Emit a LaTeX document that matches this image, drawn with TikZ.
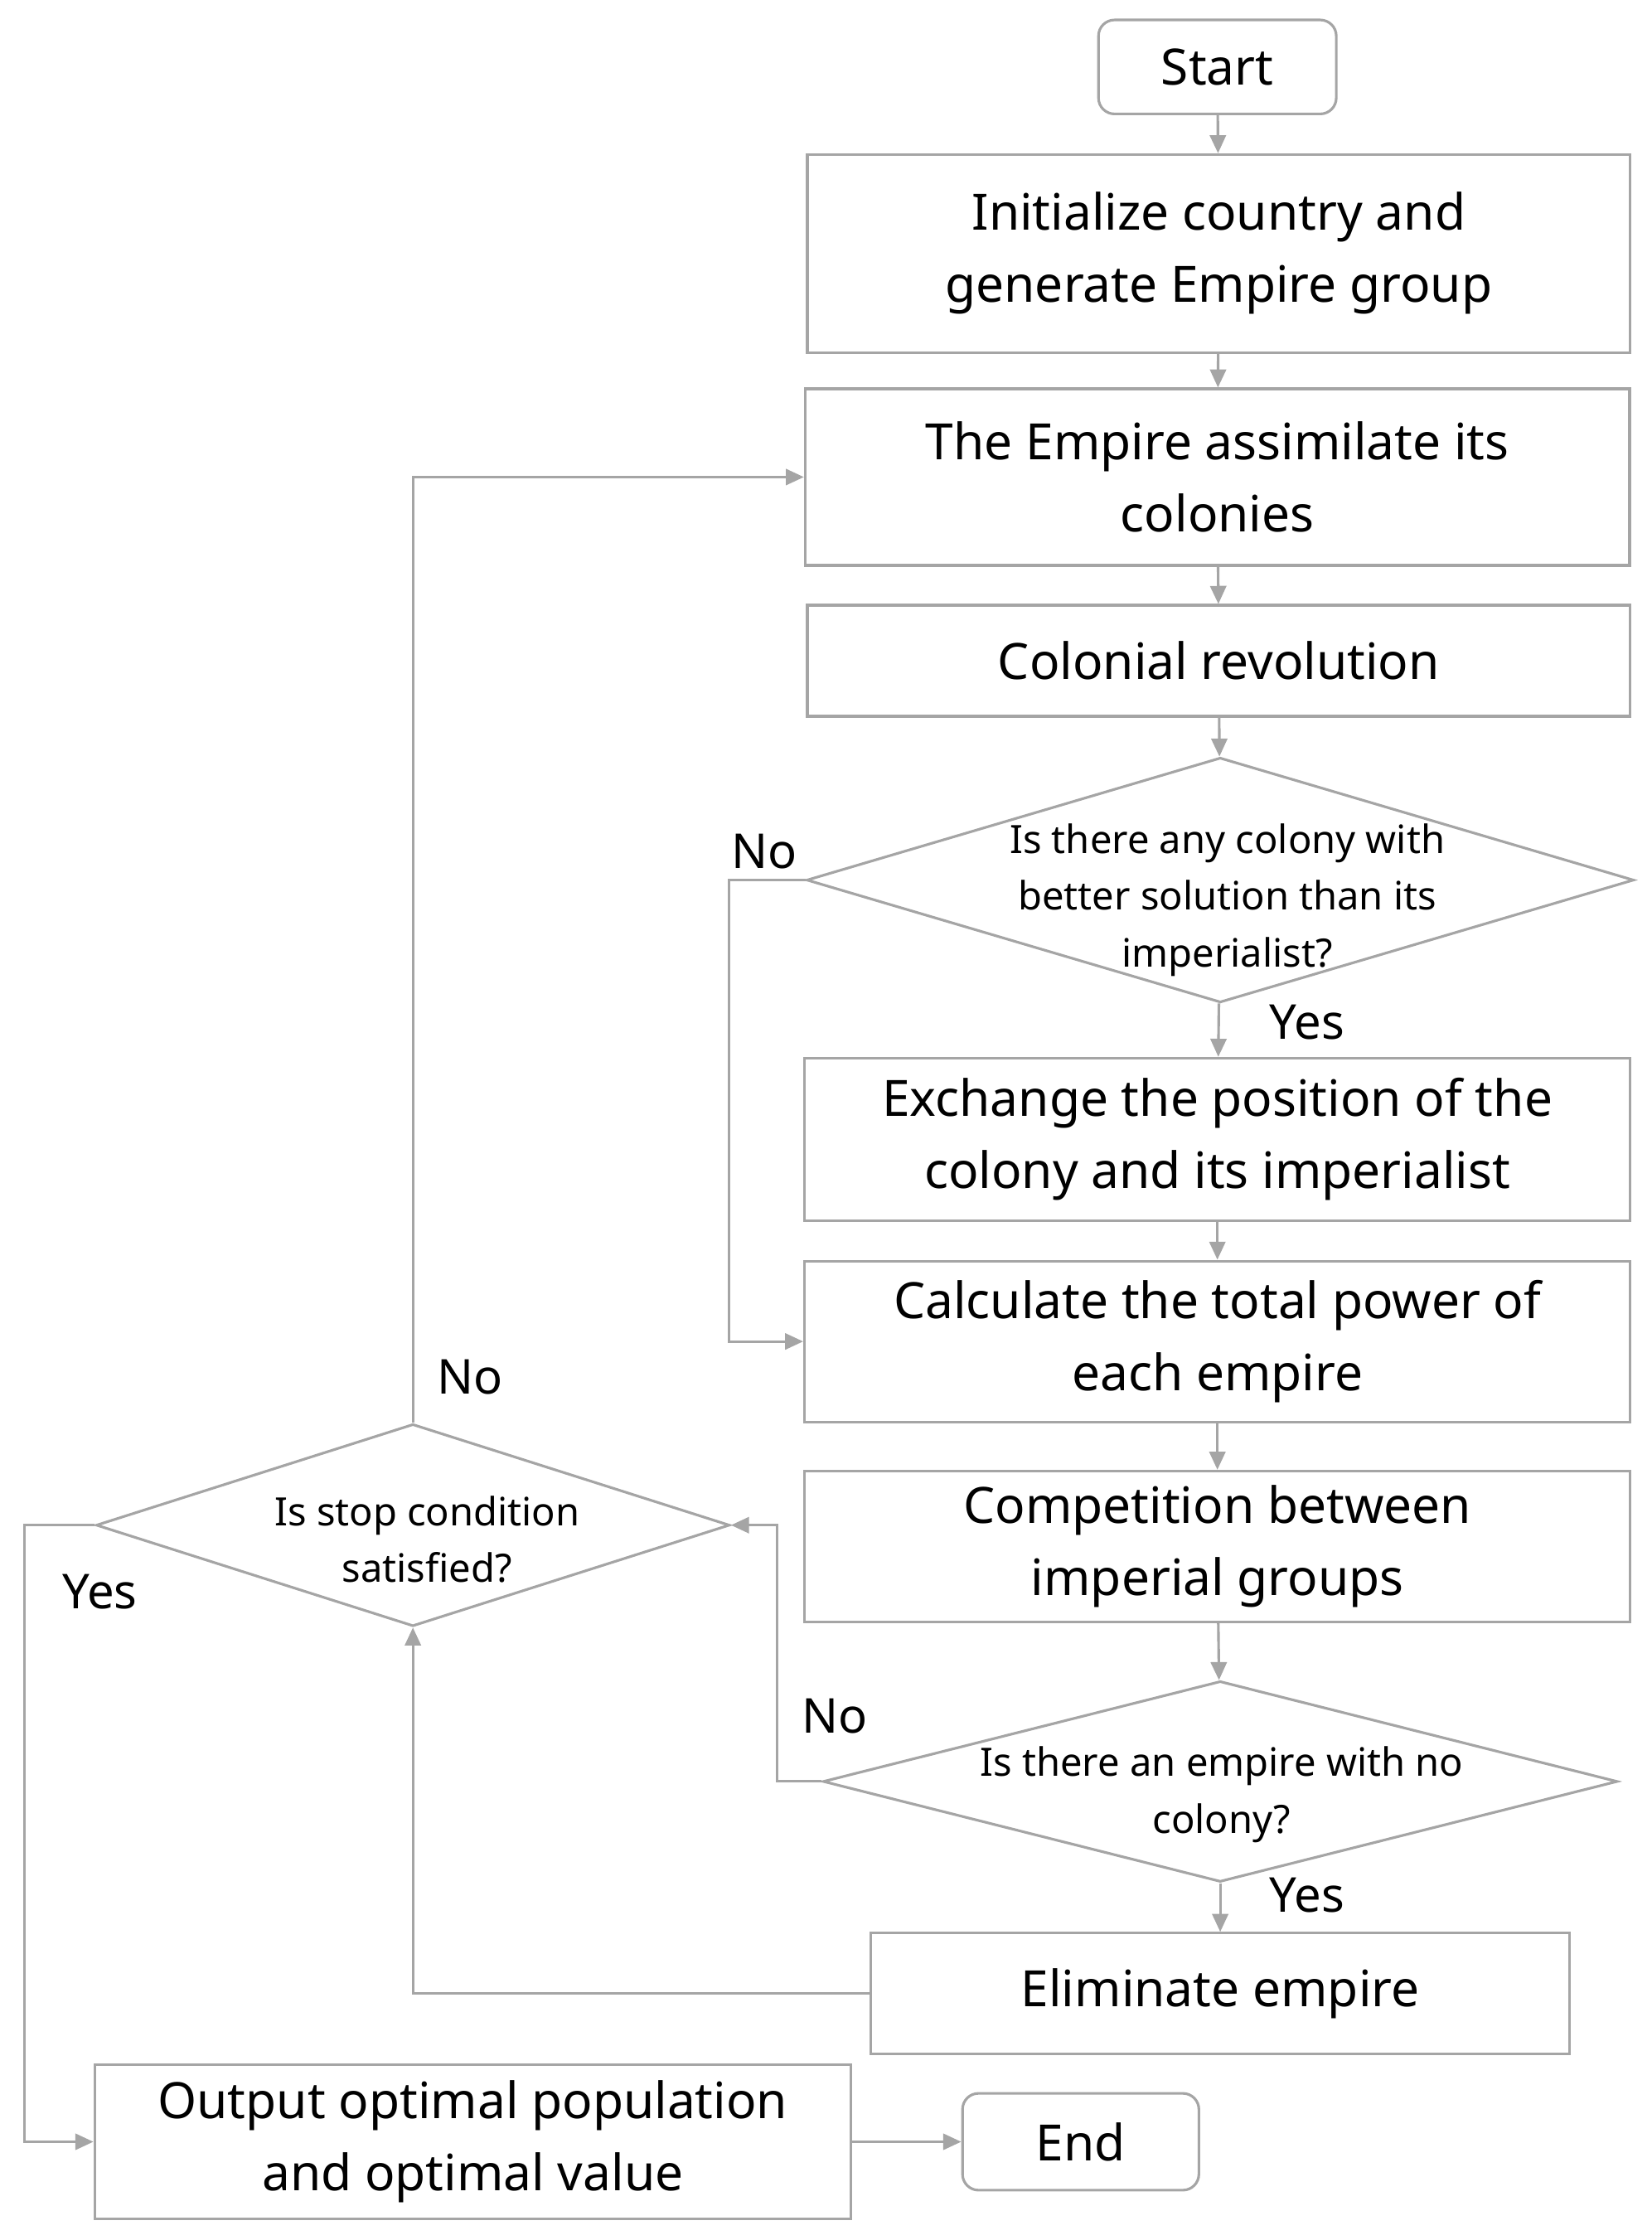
\documentclass[tikz,border=0pt]{standalone}
\usepackage{fontspec}
\setmainfont{Noto Sans}
\usetikzlibrary{shapes.geometric,arrows.meta}
\definecolor{ln}{RGB}{165,165,165}
\begin{document}
\begin{tikzpicture}[x=0.025cm,y=-0.025cm,
  box/.style={draw=ln,line width=1.3pt,rectangle,inner sep=0pt,align=center,font=\fontsize{25}{36}\selectfont},
  rbox/.style={box,rounded corners=8pt},
  dia/.style={draw=ln,line width=1.3pt,diamond,inner sep=0pt},
  dtext/.style={align=center,font=\fontsize{19.5}{28.5}\selectfont},
  lab/.style={font=\fontsize{24}{28}\selectfont},
  arr/.style={draw=ln,line width=1.3pt,-{Triangle[length=9pt,width=8pt]}}]
\useasboundingbox (0,0) rectangle (1160,1573);
\node[rbox,minimum width=167*0.025cm,minimum height=66*0.025cm] (start) at (855,47) {Start};
\node[box,minimum width=578*0.025cm,minimum height=139*0.025cm] (init) at (856,178) {Initialize country and\\generate Empire group};
\node[box,minimum width=579*0.025cm,minimum height=124*0.025cm] (assim) at (855,335) {The Empire assimilate its\\colonies};
\node[box,minimum width=578*0.025cm,minimum height=78*0.025cm] (colon) at (856,464) {Colonial revolution};
\node[dia,minimum width=581*0.025cm,minimum height=172*0.025cm] (d1) at (857,618) {};
\node[dtext] at (862,632) {Is there any colony with\\better solution than its\\imperialist?};
\node[box,minimum width=580*0.025cm,minimum height=114*0.025cm] (exch) at (855,800) {Exchange the position of the\\colony and its imperialist};
\node[box,minimum width=580*0.025cm,minimum height=113*0.025cm] (calc) at (855,942) {Calculate the total power of\\each empire};
\node[box,minimum width=580*0.025cm,minimum height=106*0.025cm] (comp) at (855,1086) {Competition between\\imperial groups};
\node[dia,minimum width=558*0.025cm,minimum height=141*0.025cm] (d2) at (857,1251) {};
\node[dtext] at (858,1260) {Is there an empire with no\\colony?};
\node[box,minimum width=491*0.025cm,minimum height=85*0.025cm] (elim) at (857,1400) {Eliminate empire};
\node[dia,minimum width=445*0.025cm,minimum height=142*0.025cm] (stop) at (290,1071) {};
\node[dtext] at (300,1081) {Is stop condition\\satisfied?};
\node[box,minimum width=531*0.025cm,minimum height=108*0.025cm] (out) at (332,1504) {Output optimal population\\and optimal value};
\node[rbox,minimum width=166*0.025cm,minimum height=68*0.025cm] (end) at (759,1504) {End};
\coordinate (c1) at (512,618);
\coordinate (c2) at (512,942);
\coordinate (c3) at (546,1251);
\coordinate (c4) at (546,1071);
\coordinate (c5) at (290,1400);
\coordinate (c6) at (290,335);
\coordinate (c7) at (17,1071);
\coordinate (c8) at (17,1504);
\draw[arr] (start) -- (init);
\draw[arr] (init) -- (assim);
\draw[arr] (assim) -- (colon);
\draw[arr] (colon) -- (d1);
\draw[arr] (d1) -- (exch);
\draw[arr] (exch) -- (calc);
\draw[arr] (calc) -- (comp);
\draw[arr] (comp) -- (d2);
\draw[arr] (d2) -- (elim);
\draw[arr] (d1.west) -- (c1) -- (c2) -- (calc.west);
\draw[arr] (d2.west) -- (c3) -- (c4) -- (stop.east);
\draw[arr] (elim.west) -- (c5) -- (stop.south);
\draw[arr] (stop.north) -- (c6) -- (assim.west);
\draw[arr] (stop.west) -- (c7) -- (c8) -- (out.west);
\draw[arr] (out) -- (end);
\node[lab] at (537,598) {No};
\node[lab] at (918,718) {Yes};
\node[lab] at (586,1205) {No};
\node[lab] at (918,1331) {Yes};
\node[lab] at (330,967) {No};
\node[lab] at (70,1118) {Yes};
\end{tikzpicture}
\end{document}
